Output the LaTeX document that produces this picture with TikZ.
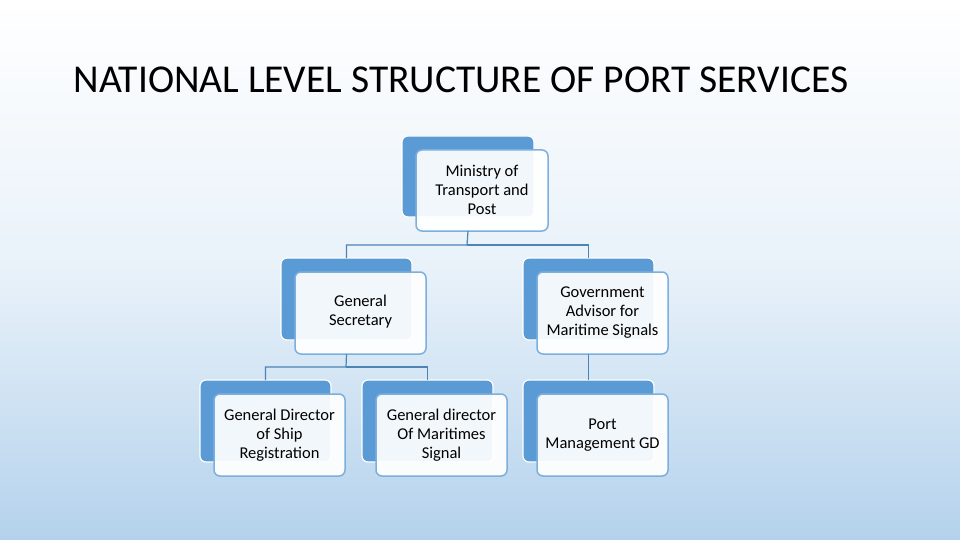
\documentclass[tikz,border=0pt]{standalone}
\usepackage{fontspec}
\setmainfont{Carlito}
\definecolor{bl}{HTML}{5B9BD5}
\definecolor{bgb}{HTML}{B4D2EC}
\begin{document}
\begin{tikzpicture}[x=1pt,y=-1pt,
  back/.style={fill=bl,draw=white,line width=1.2pt,rounded corners=6pt},
  front/.style={fill=white,fill opacity=0.92,draw=bl!80,line width=1.5pt,rounded corners=6pt},
  lbl/.style={align=center,font=\fontsize{16.5}{19}\selectfont,text=black},
  conn/.style={draw=bl!85!black,line width=1.2pt}]
\shade[top color=white,bottom color=bgb,middle color=bgb!30] (0,0) rectangle (960,540);
\useasboundingbox (0,0) rectangle (960,540);
\node[anchor=west,font=\fontsize{39.5}{45}\selectfont] (title) at (70,80) {NATIONAL LEVEL STRUCTURE OF PORT SERVICES};
\newcommand\orgbox[7]{%
  \path[back] (#1-14,#2-14) rectangle (#3-14,#4-14);
  \path[front] (#1,#2) rectangle (#3,#4);
  \node[lbl] (#5) at ({(#1+#3)/2},{(#2+#4)/2+#7}) {#6};
  \coordinate (#5top) at ({(#1+#3)/2-14},#2-14);
  \coordinate (#5bot) at ({(#1+#3)/2-14},#4);}
\orgbox{416}{150}{548}{231}{min}{Ministry of\\Transport and\\Post}{-1}
\orgbox{295}{272}{426}{354}{gs}{General\\Secretary}{-1}
\orgbox{537}{272}{668}{354}{ga}{Government\\Advisor for\\Maritime Signals}{0}
\orgbox{214}{394}{345}{476}{sr}{General Director\\of Ship\\Registration}{0}
\orgbox{376}{394}{507}{476}{ms}{General director\\Of Maritimes\\Signal}{0}
\orgbox{537}{394}{668}{476}{pm}{Port\\Management GD}{0}
\coordinate (j1) at (467,245);
\coordinate (j2) at (346,367);
\draw[conn] (minbot) -- (j1) -| (gstop);
\draw[conn] (j1) -| (gatop);
\draw[conn] (gsbot) -- (j2) -| (srtop);
\draw[conn] (j2) -| (mstop);
\draw[conn] (gabot) -- (pmtop);
\end{tikzpicture}
\end{document}
